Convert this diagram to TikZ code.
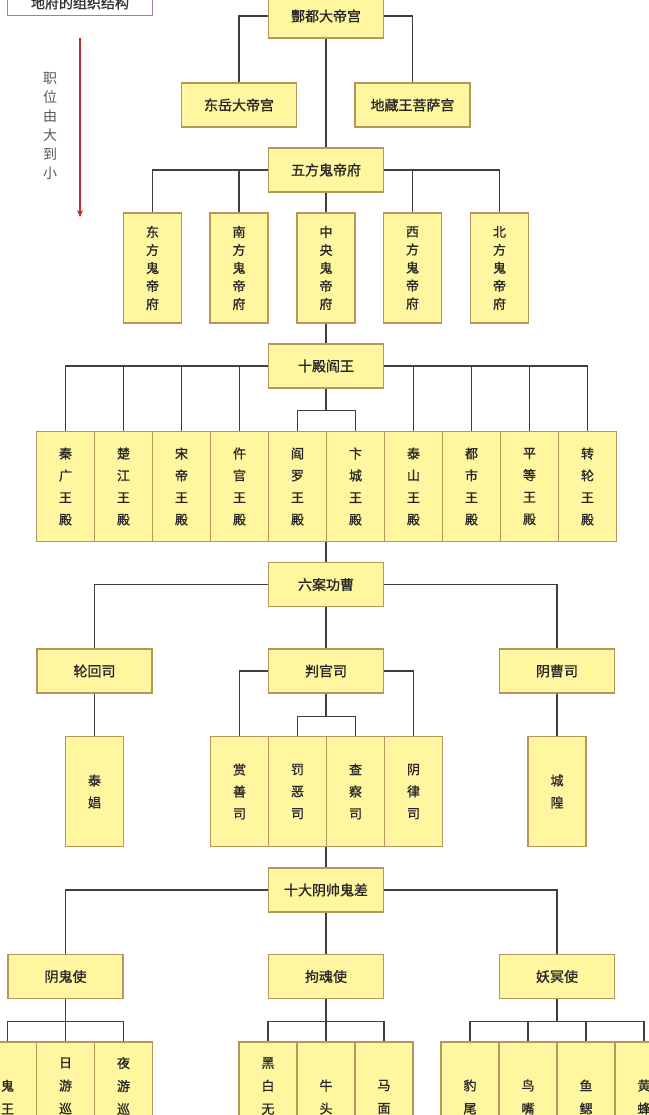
\documentclass[tikz,border=0pt]{standalone}
\usepackage{fontspec}
\newfontfamily\cjk[FakeBold=1]{Noto Sans CJK SC}
\newfontfamily\cjkthin{Noto Sans CJK SC}
\usetikzlibrary{arrows.meta}

\definecolor{boxfill}{HTML}{FFF7A0}
\definecolor{boxline}{HTML}{B8955A}
\definecolor{wire}{HTML}{3F3F3F}
\definecolor{titleline}{HTML}{B57C7C}
\definecolor{rankred}{HTML}{C0282D}

\tikzset{
	widebox/.style={draw=boxline, fill=boxfill, line width=1.2pt, minimum width=115pt, minimum height=44pt, inner sep=0pt, text=black!85, font=\cjk\fontsize{14}{17}\selectfont},
	tallbox/.style={draw=boxline, fill=boxfill, line width=1.2pt, minimum width=58pt, minimum height=110pt, inner sep=0pt, align=center, text=black!85, font=\cjk\fontsize{13}{22}\selectfont},
	tightbox/.style={tallbox, font=\cjk\fontsize{13}{18}\selectfont},
	lowbox/.style={tallbox, font=\cjk\fontsize{13}{23}\selectfont},
	wires/.style={draw=wire, line width=1.2pt},
}

\begin{document}
\begin{tikzpicture}[x=1pt, y=-1pt]
	\useasboundingbox[fill=white] (0,0) rectangle (648,1115);

		\node[draw=titleline, fill=white, line width=1pt, minimum width=145pt, minimum height=26pt, text=black!80, font=\cjk\fontsize{14}{17}\selectfont] (title) at (80,3) {地府的组织结构};
		\coordinate (ranktop) at (80,38);
		\coordinate (rankbot) at (80,217);
		\draw[rankred, line width=2pt, -{Stealth[length=7pt, width=6pt]}] (ranktop) -- (rankbot);
		\node[align=center, text=black!65, font=\cjkthin\fontsize{14}{19}\selectfont] (rank) at (50,126) {职\\位\\由\\大\\到\\小};

		\node[widebox] (fengdu) at (326,16) {酆都大帝宫};
		\node[widebox] (dongyue) at (239,105) {东岳大帝宫};
		\node[widebox] (dizang) at (412.5,105) {地藏王菩萨宫};
		\node[widebox] (wufang) at (326,170) {五方鬼帝府};

		\node[tightbox] (dongfang) at (152.5,268) {东\\方\\鬼\\帝\\府};
		\node[tightbox] (nanfang) at (239,268) {南\\方\\鬼\\帝\\府};
		\node[tightbox] (zhongyang) at (326,268) {中\\央\\鬼\\帝\\府};
		\node[tightbox] (xifang) at (412.5,268) {西\\方\\鬼\\帝\\府};
		\node[tightbox] (beifang) at (499.5,268) {北\\方\\鬼\\帝\\府};

		\node[widebox] (shidian) at (326,366) {十殿阎王};

		\node[tallbox] (qinguang) at (65.5,486.5) {秦\\广\\王\\殿};
		\node[tallbox] (chujiang) at (123.5,486.5) {楚\\江\\王\\殿};
		\node[tallbox] (songdi) at (181.5,486.5) {宋\\帝\\王\\殿};
		\node[tallbox] (wuguan) at (239.5,486.5) {仵\\官\\王\\殿};
		\node[tallbox] (yanluo) at (297.5,486.5) {阎\\罗\\王\\殿};
		\node[tallbox] (biancheng) at (355.5,486.5) {卞\\城\\王\\殿};
		\node[tallbox] (taishan) at (413.5,486.5) {泰\\山\\王\\殿};
		\node[tallbox] (dushi) at (471.5,486.5) {都\\市\\王\\殿};
		\node[tallbox] (pingdeng) at (529.5,486.5) {平\\等\\王\\殿};
		\node[tallbox] (zhuanlun) at (587.5,486.5) {转\\轮\\王\\殿};

		\node[widebox] (liuan) at (326,584.5) {六案功曹};
		\node[widebox] (lunhui) at (94.5,671) {轮回司};
		\node[widebox] (panguan) at (326,671) {判官司};
		\node[widebox] (yincao) at (557,671) {阴曹司};

		\node[tallbox] (taichang) at (94.5,791.5) {泰\\娼};
		\node[tallbox] (shangshan) at (239.5,791.5) {赏\\善\\司};
		\node[tallbox] (fae) at (297.5,791.5) {罚\\恶\\司};
		\node[tallbox] (chacha) at (355.5,791.5) {查\\察\\司};
		\node[tallbox] (yinlv) at (413.5,791.5) {阴\\律\\司};
		\node[tallbox] (chenghuang) at (557,791.5) {城\\隍};

		\node[widebox] (shida) at (326,890) {十大阴帅鬼差};
		\node[widebox] (yingui) at (65.5,976.5) {阴鬼使};
		\node[widebox] (gouhun) at (326,976.5) {拘魂使};
		\node[widebox] (yaoming) at (557,976.5) {妖冥使};

		\node[lowbox] (guiwang) at (7.5,1097) {鬼\\王};
		\node[lowbox] (riyou) at (65.5,1097) {日\\游\\巡\\\mbox{}};
		\node[lowbox] (yeyou) at (123.5,1097) {夜\\游\\巡\\\mbox{}};
		\node[lowbox] (heibai) at (268,1097) {黑\\白\\无\\\mbox{}};
		\node[lowbox] (niutou) at (326,1097) {牛\\头};
		\node[lowbox] (mamian) at (384,1097) {马\\面};
		\node[lowbox] (baowei) at (470,1097) {豹\\尾};
		\node[lowbox] (niaozui) at (528,1097) {鸟\\嘴};
		\node[lowbox] (yusai) at (586,1097) {鱼\\鳃};
		\node[lowbox] (huangfeng) at (644,1097) {黄\\蜂};

		\draw[wires] (fengdu.west) -| (dongyue.north);
		\draw[wires] (fengdu.east) -| (dizang.north);
		\draw[wires] (fengdu) -- (wufang);

		\draw[wires] (wufang.west) -| (dongfang.north);
		\draw[wires] (wufang.west) -| (nanfang.north);
		\draw[wires] (wufang.east) -| (xifang.north);
		\draw[wires] (wufang.east) -| (beifang.north);
		\draw[wires] (wufang) -- (zhongyang);
		\draw[wires] (zhongyang) -- (shidian);

		\draw[wires] (shidian.west) -| (qinguang.north);
		\draw[wires] (shidian.west) -| (chujiang.north);
		\draw[wires] (shidian.west) -| (songdi.north);
		\draw[wires] (shidian.west) -| (wuguan.north);
		\draw[wires] (shidian.east) -| (taishan.north);
		\draw[wires] (shidian.east) -| (dushi.north);
		\draw[wires] (shidian.east) -| (pingdeng.north);
		\draw[wires] (shidian.east) -| (zhuanlun.north);
		\draw[wires] (shidian.south) -- ++(0,22) coordinate (yanfork);
		\draw[wires] (yanluo.north) |- (yanfork) -| (biancheng.north);
		\draw[wires] (liuan.north) -- (liuan.north |- yanluo.south);

		\draw[wires] (liuan.west) -| (lunhui.north);
		\draw[wires] (liuan.east) -| (yincao.north);
		\draw[wires] (liuan) -- (panguan);
		\draw[wires] (lunhui) -- (taichang);
		\draw[wires] (yincao) -- (chenghuang);

		\draw[wires] (panguan.west) -| (shangshan.north);
		\draw[wires] (panguan.east) -| (yinlv.north);
		\draw[wires] (panguan.south) -- ++(0,23) coordinate (panfork);
		\draw[wires] (fae.north) |- (panfork) -| (chacha.north);
		\draw[wires] (shida.north) -- (shida.north |- fae.south);

		\draw[wires] (shida.west) -| (yingui.north);
		\draw[wires] (shida.east) -| (yaoming.north);
		\draw[wires] (shida) -- (gouhun);

		\draw[wires] (yingui.south) -- ++(0,22) coordinate (guifork);
		\draw[wires] (guiwang.north) |- (guifork) -| (yeyou.north);
		\draw[wires] (guifork) -- (riyou.north);
		\draw[wires] (gouhun.south) -- ++(0,22) coordinate (hunfork);
		\draw[wires] (heibai.north) |- (hunfork) -| (mamian.north);
		\draw[wires] (hunfork) -- (niutou.north);
		\draw[wires] (yaoming.south) -- ++(0,22) coordinate (yaofork);
		\draw[wires] (baowei.north) |- (yaofork) -| (huangfeng.north);
		\draw[wires] (niaozui.north) -- (niaozui.north |- yaofork);
		\draw[wires] (yusai.north) -- (yusai.north |- yaofork);

	\end{tikzpicture}
\end{document}
